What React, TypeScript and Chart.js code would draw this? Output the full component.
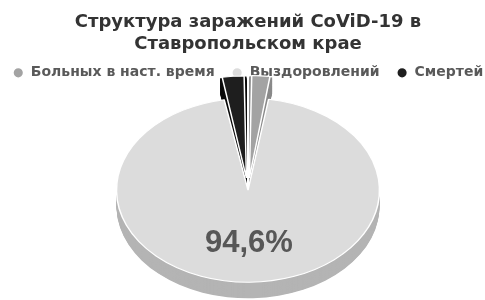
import React, { useEffect, useRef } from "react";
import { Chart, registerables, layouts } from "chart.js";

Chart.register(...registerables);

const titleLines = ["Структура заражений CoViD-19 в", "Ставропольском крае"];
const categories = ["Больных в наст. время", "Выздоровлений", "Смертей"];
const shares = [2.5, 94.6, 2.9];
const labeledIndex = 1;
const topColors = ["#a3a3a3", "#dcdcdc", "#1e1e1e"];
const sideColors = ["#8a8a8a", "#b4b4b4", "#0a0a0a"];
const explode = [70, 0, 70];

const tilt = 0.7;
const depth = 16;
const FONT = "'Liberation Sans', Arial, sans-serif";
const WIDE_FONT = "'DejaVu Sans', Verdana, sans-serif";

// invisible layout box that nudges the plot area to the right
const leftSpacer = {
  id: "leftSpacer",
  beforeInit(chart: any) {
    const box: any = {
      position: "left",
      weight: 0,
      fullSize: false,
      options: {},
      width: 0,
      height: 0,
      left: 0,
      top: 0,
      right: 0,
      bottom: 0,
      isHorizontal() {
        return false;
      },
      update(_w: number, h: number) {
        this.width = 15.5;
        this.height = h;
      },
      draw() {},
    };
    layouts.addBox(chart, box);
  },
};

const pie3d = {
  id: "pie3d",
  beforeDatasetsDraw(chart: any) {
    const arcs = chart.getDatasetMeta(0).data;
    const ctx = chart.ctx;
    ctx.save();
    if (!arcs.length) return;
    const cx = arcs[0].x;
    const cy = arcs[0].y;
    ctx.translate(cx, cy);
    ctx.scale(1, tilt);
    ctx.translate(-cx, -cy);
    const steps = Math.round(depth / tilt);
    for (let d = steps; d > 0; d -= 1) {
      arcs.forEach((arc: any, i: number) => {
        const off = (arc.options.offset || 0) / 4;
        const circ = arc.endAngle - arc.startAngle;
        const fix = 1 - Math.sin(Math.min(Math.PI, circ || 0));
        const half = (arc.startAngle + arc.endAngle) / 2;
        const ox = arc.x + Math.cos(half) * off;
        const oy = arc.y + Math.sin(half) * off + d;
        ctx.beginPath();
        ctx.moveTo(ox, oy);
        ctx.arc(ox, oy, arc.outerRadius + off * fix, arc.startAngle, arc.endAngle);
        ctx.closePath();
        ctx.fillStyle = sideColors[i];
        ctx.fill();
      });
    }
  },
  afterDatasetsDraw(chart: any) {
    const ctx = chart.ctx;
    ctx.restore();
    const arc = chart.getDatasetMeta(0).data[labeledIndex];
    if (!arc) return;
    const half = (arc.startAngle + arc.endAngle) / 2;
    const r = arc.outerRadius * 0.58;
    const lx = arc.x + Math.cos(half) * r;
    const ly = arc.y + Math.sin(half) * r * tilt;
    ctx.save();
    ctx.font = `bold 31px ${FONT}`;
    ctx.fillStyle = "#575757";
    ctx.textAlign = "center";
    ctx.textBaseline = "middle";
    ctx.fillText(shares[labeledIndex].toFixed(1).replace(".", ",") + "%", lx, ly);
    ctx.restore();
  },
};

export default function App() {
  const ref = useRef<HTMLCanvasElement | null>(null);
  useEffect(() => {
    if (!ref.current) return;
    const chart = new Chart(ref.current, {
      type: "pie",
      data: {
        labels: categories,
        datasets: [
          {
            data: shares,
            backgroundColor: topColors,
            borderColor: "#ffffff",
            borderWidth: 1.5,
            offset: explode,
            clip: false as any,
          },
        ],
      },
      options: {
        animation: false,
        responsive: true,
        maintainAspectRatio: false,
        radius: 131.5,
        layout: { padding: { left: -4.5, right: -15.5, top: 0, bottom: 9.5 } },
        plugins: {
          tooltip: { enabled: false },
          title: {
            display: true,
            text: titleLines,
            color: "#333333",
            font: { family: WIDE_FONT, size: 18, weight: "bold", lineHeight: 1.19 },
            padding: { top: 12, bottom: -6 },
          },
          legend: {
            position: "top",
            labels: {
              usePointStyle: true,
              pointStyle: "circle",
              boxWidth: 11,
              boxHeight: 7.5,
              padding: 17,
              color: "#595959",
              font: { family: WIDE_FONT, size: 14, weight: "bold" },
            },
          },
        },
      } as any,
      plugins: [leftSpacer, pie3d],
    });
    return () => chart.destroy();
  }, []);
  return (
    <div style={{ position: "fixed", left: 0, top: 0, width: 485, height: 300, background: "#ffffff" }}>
      <canvas ref={ref} />
    </div>
  );
}
